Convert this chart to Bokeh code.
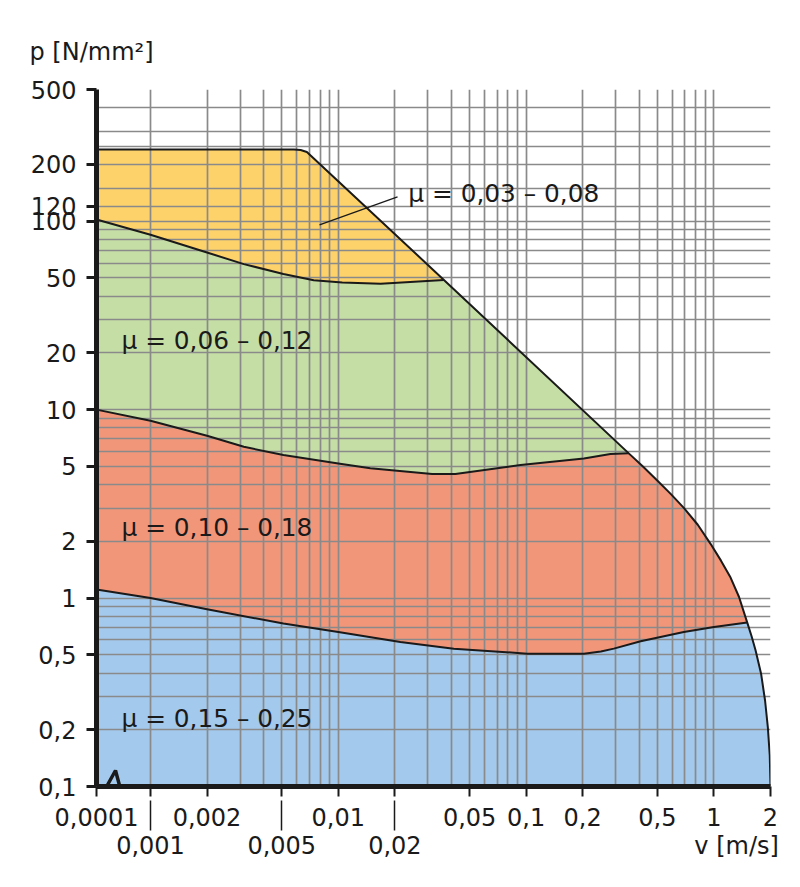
import math
from bokeh.plotting import figure
from bokeh.models import FixedTicker, LogAxis, Range1d
from bokeh.core.properties import value
from bokeh.embed import file_html
from bokeh.resources import INLINE

# ---------------- data ----------------
X_TICKS = [0.0001, 0.001, 0.002, 0.005, 0.01, 0.02, 0.05, 0.1, 0.2, 0.5, 1, 2]
X_TICK_LABELS = ["0,0001", "", "0,002", "", "0,01", "", "0,05", "0,1", "0,2", "0,5", "1", "2"]
X_TICKS_LOW = [0.001, 0.005, 0.02]
X_TICK_LABELS_LOW = ["0,001", "0,005", "0,02"]
Y_TICKS = [0.1, 0.2, 0.5, 1, 2, 5, 10, 20, 50, 100, 120, 200, 500]
Y_TICK_LABELS = ["0,1", "0,2", "0,5", "1", "2", "5", "10", "20", "50", "100", "120", "200", "500"]
X_TITLE = "v [m/s]"
Y_TITLE = "p [N/mm²]"

GRID_X = [0.001, 0.002, 0.003, 0.004, 0.005, 0.006, 0.007, 0.008, 0.009,
          0.01, 0.02, 0.03, 0.04, 0.05, 0.06, 0.07, 0.08, 0.09,
          0.1, 0.2, 0.3, 0.4, 0.5, 0.6, 0.7, 0.8, 0.9, 1, 2]
GRID_Y = [0.1, 0.2, 0.3, 0.4, 0.5, 0.6, 0.7, 0.8, 0.9,
          1, 2, 3, 4, 5, 6, 7, 8, 9,
          10, 20, 30, 40, 50, 60, 70, 80, 90,
          100, 120, 150, 200, 250, 300, 400, 500]

# boundary blue / red
B1_V = [0.0001, 0.001, 0.002, 0.0051, 0.01, 0.0214, 0.0412, 0.1014, 0.203, 0.25, 0.293, 0.407, 0.691, 1.0, 1.504]
B1_P = [1.11, 1.0, 0.872, 0.732, 0.66, 0.584, 0.539, 0.507, 0.507, 0.52, 0.539, 0.59, 0.66, 0.702, 0.741]
# boundary red / green
B2_V = [0.0001, 0.001, 0.002, 0.00314, 0.0051, 0.01, 0.0148, 0.0316, 0.042, 0.0934, 0.203, 0.281, 0.352]
B2_P = [10.0, 8.73, 7.27, 6.35, 5.74, 5.18, 4.88, 4.55, 4.55, 5.08, 5.51, 5.81, 5.86]
# boundary green / orange
B3_V = [0.0001, 0.001, 0.002, 0.00314, 0.0051, 0.0074, 0.0105, 0.0168, 0.0365]
B3_P = [102, 84.7, 68.2, 59.2, 52.5, 48.6, 47.3, 46.6, 48.8]
# outer limit curve, in four sections
OUTER_TOP_V = [0.0001, 0.0058, 0.0063, 0.0068, 0.0365]
OUTER_TOP_P = [240, 240, 238.5, 233, 48.8]
OUTER_MID_V = [0.0365, 0.352]
OUTER_MID_P = [48.8, 5.86]
OUTER_LOW_V = [0.352, 0.42, 0.499, 0.59, 0.691, 0.82, 0.959, 1.09, 1.226, 1.36, 1.504]
OUTER_LOW_P = [5.86, 4.97, 4.21, 3.56, 3.01, 2.45, 1.94, 1.58, 1.285, 1.013, 0.741]
OUTER_END_V = [1.504, 1.586, 1.665, 1.781, 1.871, 1.936, 1.982, 2.0]
OUTER_END_P = [0.741, 0.627, 0.528, 0.398, 0.286, 0.206, 0.146, 0.1]
P_MIN = 0.1

LABELS = ["μ = 0,03 – 0,08", "μ = 0,06 – 0,12", "μ = 0,10 – 0,18", "μ = 0,15 – 0,25"]
LABEL_V = [0.0236, 0.00029, 0.00029, 0.00029]
LABEL_P = [140, 23.3, 2.37, 0.229]
LEADER_V = [0.00794, 0.02066]
LEADER_P = [95.7, 134.8]

# ---------------- style ----------------
COLORS = {"blue": "#a3c9ec", "red": "#f2967a", "green": "#c5dea6", "orange": "#fdd26b"}
INK = "#1a1a1a"
GRID = "#8a8a8a"
FONT = "DejaVu Sans"
FS = "24px"
X_TITLE_POS = 1.32          # where the v-axis title sits on the lower label row
BREAK = 0.2875              # display width (decades) of the compressed 0.0001..0.001 decade


def xd(v):
    lv = math.log10(v)
    if lv >= -3:
        return v
    return 10 ** (-3 - BREAK + (lv + 4) * BREAK)


def xs(vals):
    return [xd(v) for v in vals]


X0 = xd(X_TICKS[0])

p = figure(width=792, height=872, x_axis_type="log", y_axis_type="log",
           x_range=Range1d(X0, X_TICKS[-1]), y_range=Range1d(Y_TICKS[0], Y_TICKS[-1]),
           output_backend="svg", toolbar_location=None,
           min_border_left=96, min_border_right=22, min_border_top=89, min_border_bottom=86)
p.outline_line_color = None

# title (y axis name, top left)
p.title.text = Y_TITLE
p.title.align = "left"
p.title.offset = -67
p.title.standoff = 47
p.title.text_font = FONT
p.title.text_font_size = FS
p.title.text_font_style = "normal"
p.title.text_color = INK

# grid
p.xgrid.ticker = FixedTicker(ticks=GRID_X)
p.ygrid.ticker = FixedTicker(ticks=GRID_Y)
for g in (p.xgrid, p.ygrid):
    g.grid_line_color = GRID
    g.grid_line_width = 1.7

# fills
blue_v = B1_V + OUTER_END_V[1:] + [B1_V[0]]
blue_p = B1_P + OUTER_END_P[1:] + [P_MIN]
red_v = B2_V + OUTER_LOW_V[1:] + B1_V[::-1][1:]
red_p = B2_P + OUTER_LOW_P[1:] + B1_P[::-1][1:]
green_v = B3_V + OUTER_MID_V[1:] + B2_V[::-1][1:]
green_p = B3_P + OUTER_MID_P[1:] + B2_P[::-1][1:]
orange_v = OUTER_TOP_V + B3_V[::-1][1:]
orange_p = OUTER_TOP_P + B3_P[::-1][1:]

for vv, pp, c in [(blue_v, blue_p, COLORS["blue"]), (red_v, red_p, COLORS["red"]),
                  (green_v, green_p, COLORS["green"]), (orange_v, orange_p, COLORS["orange"])]:
    r = p.patch(xs(vv), pp, fill_color=c, line_color=None)
    r.level = "image"

# boundary lines
for vv, pp in [(B1_V, B1_P), (B2_V, B2_P), (B3_V, B3_P)]:
    p.line(xs(vv), pp, line_color=INK, line_width=2, line_join="round")
outer_v = OUTER_TOP_V + OUTER_MID_V[1:] + OUTER_LOW_V[1:] + OUTER_END_V[1:]
outer_p = OUTER_TOP_P + OUTER_MID_P[1:] + OUTER_LOW_P[1:] + OUTER_END_P[1:]
p.line(xs(outer_v), outer_p, line_color=INK, line_width=2, line_join="round")
p.line(xs(LEADER_V), LEADER_P, line_color=INK, line_width=1.3)

# region labels
p.text(x=xs(LABEL_V), y=LABEL_P, text=LABELS, text_font=value(FONT),
       text_font_size=value("24.8px"), text_baseline="middle", text_align="left",
       text_color=INK)

# axes
xa = p.xaxis[0]
xa.ticker = FixedTicker(ticks=xs(X_TICKS))
xa.major_label_overrides = {xd(t): l for t, l in zip(X_TICKS, X_TICK_LABELS)}
ya = p.yaxis[0]
ya.ticker = FixedTicker(ticks=Y_TICKS)
ya.major_label_overrides = {t: l for t, l in zip(Y_TICKS, Y_TICK_LABELS)}
for ax in (xa, ya):
    ax.axis_line_width = 5
    ax.axis_line_color = INK
    ax.major_tick_out = 10
    ax.major_tick_in = 0
    ax.major_tick_line_color = INK
    ax.minor_tick_line_color = None
    ax.major_label_text_font = FONT
    ax.major_label_text_font_size = FS
    ax.major_label_text_color = INK
xa.major_tick_line_width = 2
xa.major_label_standoff = 11
ya.major_tick_line_width = 3
ya.major_label_standoff = 10

low_ticks = X_TICKS_LOW + [X_TITLE_POS]
low_labels = X_TICK_LABELS_LOW + [X_TITLE]
ax2 = LogAxis(ticker=FixedTicker(ticks=low_ticks, minor_ticks=X_TICKS_LOW),
              major_label_overrides={t: l for t, l in zip(low_ticks, low_labels)},
              axis_line_color=None, major_tick_line_color=None,
              major_tick_in=0, major_tick_out=2,
              minor_tick_in=28, minor_tick_out=2,
              minor_tick_line_width=1.5, minor_tick_line_color=INK,
              major_label_standoff=1,
              major_label_text_font=FONT, major_label_text_font_size=FS,
              major_label_text_color=INK)
p.add_layout(ax2, "below")

# axis break mark (visible part inside the frame)
ZIG_DX = [10.7, 19.0, 25.7, 30.0]
ZIG_DY = [1.0, 16.0, -9.0, 1.0]
p.line([X0 * 10 ** (d / 187.8) for d in ZIG_DX], [P_MIN * 10 ** (d / 188.4) for d in ZIG_DY],
       line_color=INK, line_width=3.5)

with open("out.html", "w", encoding="utf-8") as f:
    f.write(file_html(p, INLINE, title="p-v diagram"))
